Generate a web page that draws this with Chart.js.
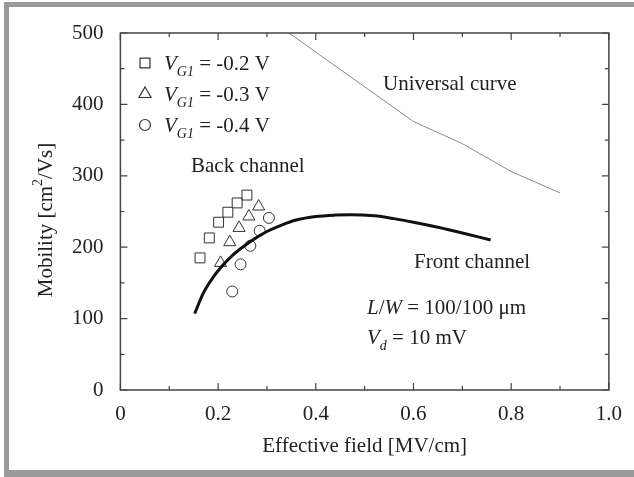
<!DOCTYPE html>
<html>
<head>
<meta charset="utf-8">
<script src="https://cdn.jsdelivr.net/npm/chart.js@4.4.1/dist/chart.umd.min.js"></script>
<style>
    html, body { margin: 0; padding: 0; background: #fff; }
    #wrap { width: 634px; height: 477px; position: relative; }
</style>
</head>
<body>
<div id="wrap"><canvas id="mobilityChart"></canvas></div>
<script>
// Effective field [MV/cm] vs mobility [cm2/Vs]
const universalField = [0.345, 0.6, 0.7, 0.8, 0.9];
const universalMobility = [500, 376, 345, 306, 276];

const frontField = [0.152, 0.17, 0.19, 0.21, 0.23, 0.25, 0.275, 0.3, 0.33, 0.36, 0.4, 0.44, 0.47, 0.52, 0.56, 0.6, 0.65, 0.7, 0.758];
const frontMobility = [107, 136, 158, 175, 189, 200, 212, 222, 231, 238, 243, 245, 245.5, 244, 240, 235, 228, 220, 210];

const vg02Field = [0.163, 0.182, 0.201, 0.220, 0.239, 0.259];
const vg02Mobility = [185, 213, 235, 249, 262, 273];

const vg03Field = [0.205, 0.224, 0.243, 0.263, 0.283];
const vg03Mobility = [178, 207, 227, 243, 257];

const vg04Field = [0.229, 0.246, 0.266, 0.285, 0.304];
const vg04Mobility = [138, 176, 202, 223, 241];

const xTickLabels = ['0', '0.2', '0.4', '0.6', '0.8', '1.0'];
const yTickLabels = ['0', '100', '200', '300', '400', '500'];
const legendLabels = ['-0.2 V', '-0.3 V', '-0.4 V'];
const legendStyles = ['rect', 'triangle', 'circle'];

const FONT = 'Liberation Serif, Times New Roman, serif';
const INK = '#222';

function toPoints(xs, ys) {
    return xs.map((x, i) => ({ x: x, y: ys[i] }));
}

// draw a row of text pieces (normal / italic / sub / sup) starting at x on baseline y
function drawRuns(ctx, x, y, runs) {
    runs.forEach(r => {
        ctx.font = (r.italic ? 'italic ' : '') + (r.size || 21) + 'px ' + FONT;
        ctx.fillText(r.t, x, y + (r.dy || 0));
        x += ctx.measureText(r.t).width;
    });
}

function runsWidth(ctx, runs) {
    let w = 0;
    runs.forEach(r => {
        ctx.font = (r.italic ? 'italic ' : '') + (r.size || 21) + 'px ' + FONT;
        w += ctx.measureText(r.t).width;
    });
    return w;
}

const overlay = {
    id: 'overlay',
    beforeDraw(chart) {
        const ctx = chart.ctx;
        ctx.save();
        ctx.fillStyle = '#9a9a9a';
        ctx.fillRect(4, 2, 630, 5);     // top band
        ctx.fillRect(4, 2, 5, 475);     // left band
        ctx.fillRect(4, 470, 630, 7);   // bottom band
        ctx.restore();
    },
    afterDraw(chart) {
        const ctx = chart.ctx;
        const a = chart.chartArea;
        const xs = chart.scales.x;
        const ys = chart.scales.y;
        ctx.save();

        // axis box
        ctx.strokeStyle = '#444';
        ctx.lineWidth = 1.5;
        ctx.strokeRect(a.left, a.top, a.right - a.left, a.bottom - a.top);

        // inward ticks on all four sides
        ctx.lineWidth = 1.2;
        ctx.beginPath();
        for (let i = 0; i <= 10; i++) {
            const len = i % 2 === 0 ? 7 : 4;
            const px = xs.getPixelForValue(i / 10);
            ctx.moveTo(px, a.bottom); ctx.lineTo(px, a.bottom - len);
            ctx.moveTo(px, a.top); ctx.lineTo(px, a.top + len);
            const py = ys.getPixelForValue(i * 50);
            ctx.moveTo(a.left, py); ctx.lineTo(a.left + len, py);
            ctx.moveTo(a.right, py); ctx.lineTo(a.right - len, py);
        }
        ctx.stroke();

        ctx.fillStyle = INK;
        ctx.textAlign = 'left';
        ctx.textBaseline = 'alphabetic';

        // legend
        const rowY = [63, 94, 125];
        legendLabels.forEach((lab, i) => {
            ctx.strokeStyle = '#333';
            ctx.fillStyle = 'rgba(0,0,0,0)';
            Chart.helpers.drawPoint(ctx, {
                pointStyle: legendStyles[i],
                radius: legendStyles[i] === 'circle' ? 5.5 : 7,
                borderWidth: 1, rotation: 0
            }, 145, rowY[i]);
            ctx.fillStyle = INK;
            drawRuns(ctx, 164, rowY[i] + 7, [
                { t: 'V', italic: true },
                { t: 'G1', italic: true, size: 14, dy: 6 },
                { t: ' = ' + lab }
            ]);
        });

        // annotations
        drawRuns(ctx, 383, 90, [{ t: 'Universal curve' }]);
        drawRuns(ctx, 191, 172, [{ t: 'Back channel' }]);
        drawRuns(ctx, 414, 268, [{ t: 'Front channel' }]);
        drawRuns(ctx, 367, 314, [
            { t: 'L', italic: true }, { t: '/' }, { t: 'W', italic: true },
            { t: ' = 100/100 \u03bcm' }
        ]);
        drawRuns(ctx, 367, 344, [
            { t: 'V', italic: true },
            { t: 'd', italic: true, size: 14, dy: 6 },
            { t: ' = 10 mV' }
        ]);

        // axis titles
        const xTitle = [{ t: 'Effective field [MV/cm]' }];
        drawRuns(ctx, (a.left + a.right) / 2 - runsWidth(ctx, xTitle) / 2, 452, xTitle);

        const yTitle = [
            { t: 'Mobility [cm' },
            { t: '2', size: 14, dy: -10 },
            { t: '/Vs]' }
        ];
        ctx.translate(52, 220);
        ctx.rotate(-Math.PI / 2);
        drawRuns(ctx, -runsWidth(ctx, yTitle) / 2, 0, yTitle);

        ctx.restore();
    }
};

document.addEventListener('DOMContentLoaded', function () {
    Chart.defaults.font.family = FONT;
    Chart.defaults.font.size = 21;
    Chart.defaults.color = INK;

    const ctx = document.getElementById('mobilityChart').getContext('2d');
    new Chart(ctx, {
        type: 'scatter',
        data: {
            datasets: [{
                label: 'Universal curve',
                data: toPoints(universalField, universalMobility),
                showLine: true,
                borderColor: '#8a8a8a',
                borderWidth: 1,
                pointRadius: 0
            }, {
                label: 'Front channel',
                data: toPoints(frontField, frontMobility),
                showLine: true,
                borderColor: '#111',
                borderWidth: 3,
                cubicInterpolationMode: 'monotone',
                pointRadius: 0
            }, {
                label: 'VG1 = -0.2 V',
                data: toPoints(vg02Field, vg02Mobility),
                pointStyle: 'rect',
                pointRadius: 7,
                borderColor: '#333',
                borderWidth: 1,
                backgroundColor: 'rgba(0,0,0,0)'
            }, {
                label: 'VG1 = -0.3 V',
                data: toPoints(vg03Field, vg03Mobility),
                pointStyle: 'triangle',
                pointRadius: 7,
                borderColor: '#333',
                borderWidth: 1,
                backgroundColor: 'rgba(0,0,0,0)'
            }, {
                label: 'VG1 = -0.4 V',
                data: toPoints(vg04Field, vg04Mobility),
                pointStyle: 'circle',
                pointRadius: 5.5,
                borderColor: '#333',
                borderWidth: 1,
                backgroundColor: 'rgba(0,0,0,0)'
            }]
        },
        options: {
            responsive: true,
            maintainAspectRatio: false,
            animation: false,
            events: [],
            layout: { padding: { left: 10, top: 33, right: 23.5, bottom: 10 } },
            plugins: {
                legend: { display: false },
                tooltip: { enabled: false }
            },
            scales: {
                x: {
                    type: 'linear',
                    min: 0, max: 1,
                    grid: { display: false, drawTicks: false },
                    border: { display: false },
                    ticks: {
                        stepSize: 0.2,
                        padding: 12,
                        maxRotation: 0,
                        callback: (v, i) => xTickLabels[i]
                    },
                    afterFit: scale => { scale.height = 77; }
                },
                y: {
                    type: 'linear',
                    min: 0, max: 500,
                    grid: { display: false, drawTicks: false },
                    border: { display: false },
                    ticks: {
                        stepSize: 100,
                        padding: 17,
                        callback: (v, i) => yTickLabels[i]
                    },
                    afterFit: scale => { scale.width = 110.4; }
                }
            }
        },
        plugins: [overlay]
    });
});
</script>
</body>
</html>
